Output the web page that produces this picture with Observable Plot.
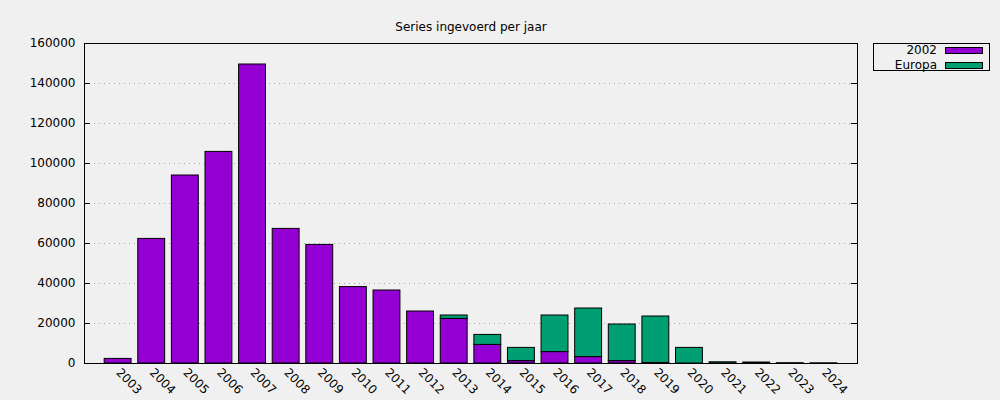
<!DOCTYPE html>
<html>
<head>
<meta charset="utf-8">
<script src="https://cdn.jsdelivr.net/npm/d3@7"></script>
<script src="https://cdn.jsdelivr.net/npm/@observablehq/plot@0.6"></script>
<style>
  html, body { margin: 0; padding: 0; background: #f0f0f0; }
  #chart svg { display: block; }
</style>
</head>
<body>
<div id="chart"></div>
<script>
const title = "Series ingevoerd per jaar";
const years = ["2003","2004","2005","2006","2007","2008","2009","2010","2011","2012","2013","2014","2015","2016","2017","2018","2019","2020","2021","2022","2023","2024"];
const seriesNames = ["2002", "Europa"];
const seriesColors = ["#9400d3", "#009e73"];
const values2002 =   [2300, 62300, 94000, 105800, 149500, 67300, 59300, 38200, 36500, 26000, 22300, 9300, 1200, 5700, 3200, 1200, 300, 0, 0, 0, 150, 0];
const valuesEuropa = [0, 0, 0, 0, 0, 0, 0, 0, 0, 0, 1700, 5000, 6600, 18300, 24300, 18300, 23200, 7800, 600, 500, 0, 100];
const yTicks = [0, 20000, 40000, 60000, 80000, 100000, 120000, 140000, 160000];

const rows = [];
years.forEach((y, i) => {
  rows.push({year: y, series: seriesNames[0], value: values2002[i]});
  rows.push({year: y, series: seriesNames[1], value: valuesEuropa[i]});
});
const data = rows.filter(d => d.value > 0);

const W = 1000, H = 400;
const mL = 84, mR = 143, mT = 43, mB = 37;
const plotW = W - mL - mR;

const chart = Plot.plot({
  width: W,
  height: H,
  marginLeft: mL,
  marginRight: mR,
  marginTop: mT,
  marginBottom: mB,
  style: {background: "#f0f0f0", fontFamily: "DejaVu Sans", fontSize: "12px", color: "#000"},
  x: {domain: years, paddingInner: 0.2, paddingOuter: 0.6, round: false, label: null},
  y: {domain: [0, 160000], label: null},
  color: {domain: seriesNames, range: seriesColors},
  marks: [
    Plot.gridY(yTicks.slice(1, -1), {stroke: "#a8a8a8", strokeOpacity: 1, strokeDasharray: "1,4"}),
    Plot.barY(data, Plot.stackY({x: "year", y: "value", fill: "series", order: seriesNames, stroke: "#000", strokeWidth: 1})),
    Plot.tickY(yTicks, {y: d => d, insetRight: plotW - 6, stroke: "#000"}),
    Plot.tickY(yTicks, {y: d => d, insetLeft: plotW - 6, stroke: "#000"}),
    Plot.axisY({ticks: yTicks, tickSize: 0, tickPadding: 9, tickFormat: d => String(d), label: null}),
    Plot.axisX({tickSize: 0, tickRotate: 45, tickPadding: 7, label: null}),
    Plot.frame({stroke: "#000", strokeWidth: 1}),
    Plot.text([title], {frameAnchor: "top", dy: -21, text: d => d, fontSize: 12})
  ]
});

// legend box (gnuplot-style key outside the plot, top-right)
const svg = d3.select(chart);
const lg = svg.append("g").attr("font-family", "DejaVu Sans").attr("font-size", 12);
lg.append("rect").attr("x", 873.5).attr("y", 43.5).attr("width", 116).attr("height", 27)
  .attr("fill", "none").attr("stroke", "#000");
seriesNames.forEach((name, i) => {
  const yy = 47.5 + i * 15;
  lg.append("text").attr("x", 937).attr("y", yy + 6.5).attr("text-anchor", "end").attr("fill", "#000").text(name);
  lg.append("rect").attr("x", 945.5).attr("y", yy).attr("width", 37).attr("height", 6)
    .attr("fill", seriesColors[i]).attr("stroke", "#000");
});

document.getElementById("chart").appendChild(chart);
</script>
</body>
</html>
